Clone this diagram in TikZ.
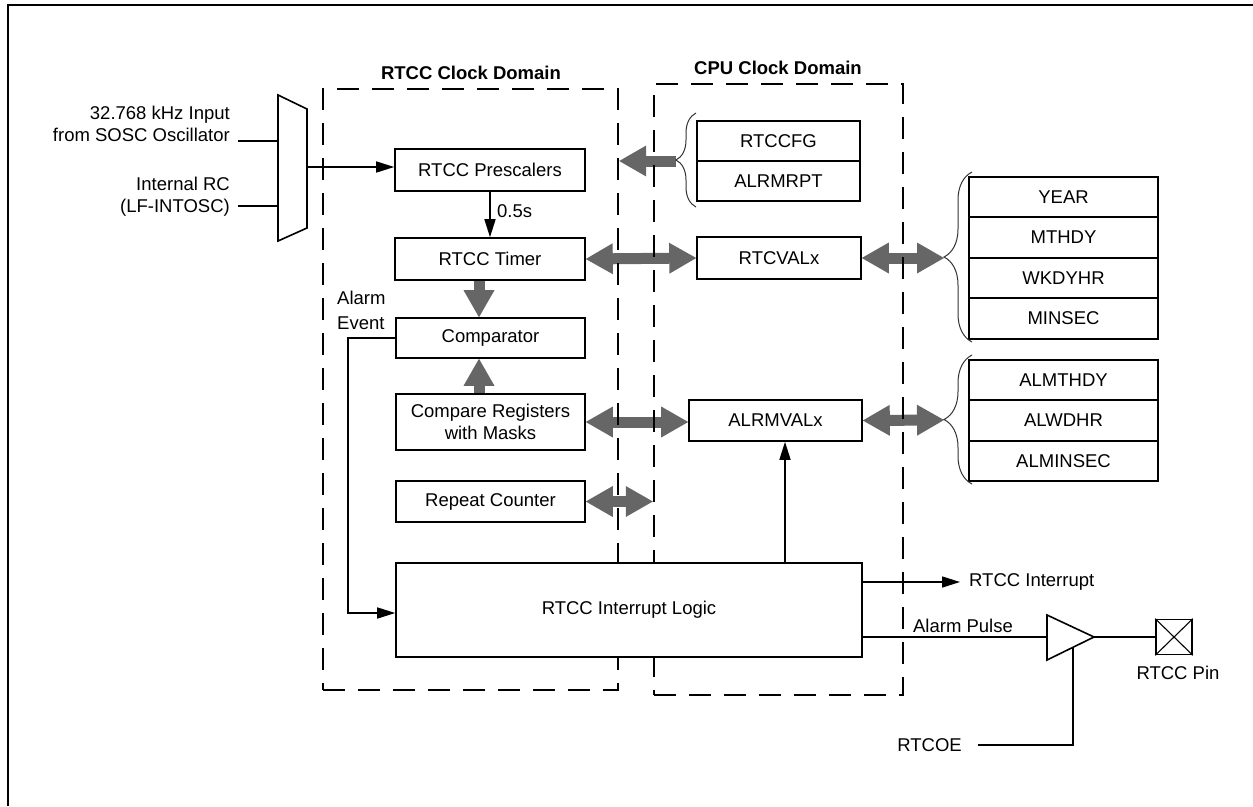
\documentclass[tikz,border=0pt]{standalone}
\usepackage{fontspec}
\setmainfont{Liberation Sans}
\usetikzlibrary{arrows.meta,decorations.pathreplacing,calc,backgrounds}
\definecolor{fatgray}{RGB}{102,102,102}
\begin{document}
\begin{tikzpicture}[x=1pt,y=-1pt,
  every node/.style={font=\fontsize{18.5}{22}\selectfont, inner sep=0pt},
  box/.style={draw, line width=1.6pt, fill=white, minimum width=190pt, minimum height=42pt, align=center},
  dom/.style={draw, line width=2.4pt, dash pattern=on 22pt off 13pt},
  wire/.style={line width=1.6pt},
  arr/.style={wire,-{Triangle[length=18pt,width=11pt]}},
  fat/.style={draw=fatgray, line width=11pt, -{Triangle[length=27pt,width=31pt,line width=0pt]}},
  fatboth/.style={draw=fatgray, line width=11pt, {Triangle[length=27pt,width=31pt,line width=0pt]}-{Triangle[length=27pt,width=31pt,line width=0pt]}},
  brc/.style={draw=black!80, line width=1pt, decorate, decoration={brace, amplitude=#1}},
  brc/.default=28pt,
  title/.style={font=\fontsize{18.5}{22}\selectfont\bfseries}
]
\useasboundingbox (0,0) rectangle (1253,806);
% outer frame
\draw[line width=2.2pt] (8,806) -- (8,5) -- (1253,5);

% clock domains
\node[dom, minimum width=295pt, minimum height=601pt] (rdom) at (470.5,389.5) {};
\node[dom, minimum width=249pt, minimum height=611pt] (cdom) at (778.5,389.5) {};
\node[title] (rtitle) at (471,73) {RTCC Clock Domain};
\node[title] (ctitle) at (778,68) {CPU Clock Domain};

% RTCC domain blocks
\node[box] (pre) at (490,170) {RTCC Prescalers};
\node[box] (timer) at (490,259) {RTCC Timer};
\node[box, minimum width=189pt, minimum height=40pt] (comp) at (490.5,338) {Comparator};
\node[box, minimum width=189pt, minimum height=56pt] (cmpreg) at (490.5,422) {Compare Registers\\with Masks};
\node[box, minimum width=189pt, minimum height=41pt] (rep) at (490.5,501.5) {Repeat Counter};
\node[box, minimum width=466pt, minimum height=94pt] (intl) at (629,610) {RTCC Interrupt Logic};

% CPU domain registers
\node[box, minimum width=163pt, minimum height=40pt] (rtccfg) at (778.5,141) {RTCCFG};
\node[box, minimum width=163pt, minimum height=40pt] (alrmrpt) at (778.5,181) {ALRMRPT};
\node[box, minimum width=164pt, minimum height=42pt] (rtcval) at (779,258) {RTCVALx};
\node[box, minimum width=173pt, minimum height=41pt] (alrmval) at (775.5,420.5) {ALRMVALx};

% right register groups
\node[box, minimum width=189pt, minimum height=40.5pt] (year) at (1063.5,197) {YEAR};
\node[box, minimum width=189pt, minimum height=40.5pt] (mthdy) at (1063.5,237.5) {MTHDY};
\node[box, minimum width=189pt, minimum height=40.5pt] (wkdyhr) at (1063.5,278) {WKDYHR};
\node[box, minimum width=189pt, minimum height=40.5pt] (minsec) at (1063.5,318.5) {MINSEC};
\node[box, minimum width=189pt, minimum height=40.5pt] (almthdy) at (1063.5,380) {ALMTHDY};
\node[box, minimum width=189pt, minimum height=40.5pt] (alwdhr) at (1063.5,420.5) {ALWDHR};
\node[box, minimum width=189pt, minimum height=40.5pt] (alminsec) at (1063.5,461) {ALMINSEC};

% braces
\draw[brc=20pt] (696,207) -- (696,113);
\coordinate (b0tip) at (676,161);
\draw[brc] (972,342) -- (972,172);
\coordinate (b1tip) at (944,258);
\draw[brc] (972,484) -- (972,355);
\coordinate (b2tip) at (944,420);

% fat arrows
\begin{pgfonlayer}{background}
\draw[fat] (b0tip) -- (b0tip -| rdom.east);
\draw[fatboth] (timer.east) -- (rtcval.west);
\draw[fatboth] (rtcval.east) -- (b1tip);
\coordinate (fx) at (479,0);
\draw[fat] (timer.south -| fx) -- (comp.north -| fx);
\draw[fat] (cmpreg.north -| fx) -- (comp.south -| fx);
\draw[fatboth] (cmpreg.east) -- (cmpreg.east -| alrmval.west);
\draw[fatboth] (alrmval.east) -- (b2tip);
\draw[fatboth] (rep.east) -- (rep.east -| cdom.west);
\end{pgfonlayer}

% multiplexer and inputs
\coordinate (mtl) at (278,95);
\coordinate (mtr) at (307,109);
\coordinate (mbr) at (307,228);
\coordinate (mbl) at (278,241);
\draw[wire] (mtl) -- (mtr) -- (mbr) -- (mbl) -- cycle;
\coordinate (in1) at (238,141);
\coordinate (in2) at (238,206);
\draw[wire] (in1) -- (in1 -| mtl);
\draw[wire] (in2) -- (in2 -| mtl);
\node[anchor=east, align=right] (lbl1) at (230,124) {32.768 kHz Input\\from SOSC Oscillator};
\node[anchor=east, align=right] (lbl2) at (230,196.5) {Internal RC\\(LF-INTOSC)};
\coordinate (mout) at (307,167);
\draw[arr] (mout) -- (mout -| pre.west);

% prescaler to timer
\draw[arr] (pre.south) -- (timer.north);
\node[anchor=west] (half) at (497,211) {0.5s};

% alarm event
\coordinate (aeturn) at (348,613);
\draw[arr] (comp.west) -| (aeturn) -- (aeturn -| intl.west);
\node[anchor=west, align=left] (aelbl) at (337,310.5) {Alarm\\[3pt]Event};

% interrupt logic to ALRMVALx
\coordinate (upx) at (785,0);
\draw[arr] (intl.north -| upx) -- (alrmval.south -| upx);

% RTCC interrupt output
\coordinate (irqend) at (960,582);
\draw[arr] (irqend -| intl.east) -- (irqend);
\node[anchor=west] (irqlbl) at (969,582) {RTCC Interrupt};

% alarm pulse, buffer and pin
\coordinate (bufin) at (1047,637);
\coordinate (buftop) at (1047,615);
\coordinate (bufbot) at (1047,660);
\coordinate (bufout) at (1094,637);
\draw[wire, line join=miter] (buftop) -- (bufout) -- (bufbot) -- cycle;
\draw[wire] (bufin -| intl.east) -- (bufin);
\node (aplbl) at (963,626) {Alarm Pulse};
\node[draw, line width=1.6pt, minimum width=36pt, minimum height=35pt] (pin) at (1174,637) {};
\draw[line width=1.1pt] (pin.north west) -- (pin.south east) (pin.north east) -- (pin.south west);
\draw[wire] (bufout) -- (bufout -| pin.west);
\node (pinlbl) at (1178,673) {RTCC Pin};

% output enable
\node[anchor=east] (oe) at (962,745) {RTCOE};
\coordinate (oetap) at (1073,647.5);
\draw[wire] ($(oe.east)+(16,0)$) -| (oetap);
\end{tikzpicture}
\end{document}
